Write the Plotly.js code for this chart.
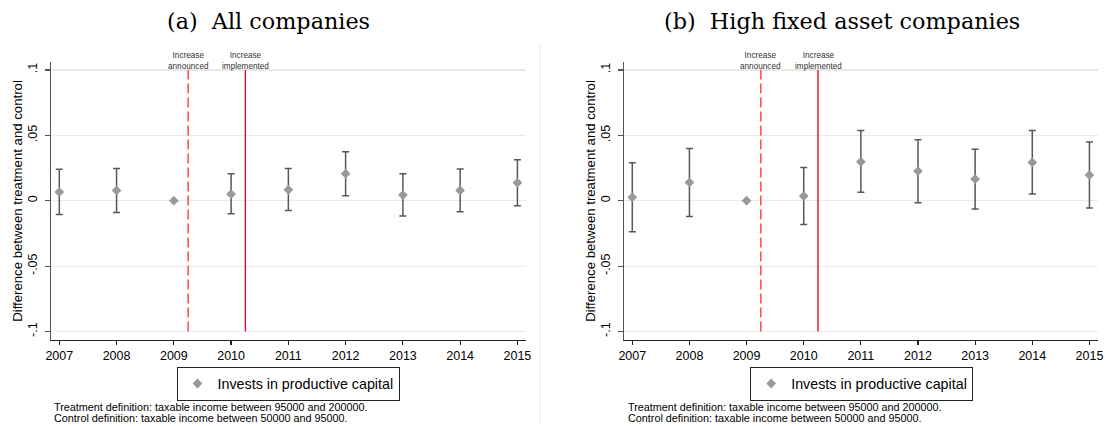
<!DOCTYPE html>
<html><head><meta charset="utf-8">
<script src="https://cdn.plot.ly/plotly-3.0.1.min.js"></script>
<style>html,body{margin:0;padding:0;background:#fff}</style>
</head><body><div id="chart" style="width:1105px;height:426px"></div>
<script>
// ---- data ----
const years = [2007, 2008, 2009, 2010, 2011, 2012, 2013, 2014, 2015];
const coefAll  = [0.0066, 0.0079, 0, 0.0051, 0.0084, 0.0207, 0.0043, 0.0079, 0.0138];
const upperAll = [0.0240, 0.0247, null, 0.0207, 0.0247, 0.0375, 0.0207, 0.0242, 0.0314];
const lowerAll = [-0.0105, -0.0089, null, -0.0099, -0.0074, 0.0038, -0.0117, -0.0084, -0.0038];
const coefHigh  = [0.0026, 0.0140, 0, 0.0036, 0.0298, 0.0227, 0.0166, 0.0293, 0.0196];
const upperHigh = [0.0291, 0.0400, null, 0.0255, 0.0538, 0.0467, 0.0393, 0.0538, 0.0449];
const lowerHigh = [-0.0237, -0.0120, null, -0.0181, 0.0064, -0.0015, -0.0064, 0.0051, -0.0056];
const yTickVals = [-0.1, -0.05, 0, 0.05, 0.1];
const yTickText = ['-.1', '-.05', '0', '.05', '.1'];
const eventX = [2009.25, 2010.25];
const eventLabels = ['Increase<br>announced', 'Increase<br>implemented'];
const panelTitles = ['(a)\u00a0\u00a0All companies', '(b)\u00a0\u00a0High fixed asset companies'];
const seriesName = 'Invests in productive capital';
const yTitle = 'Difference between treatment and control';
const noteLines = ['Treatment definition: taxable income between 95000 and 200000.',
                   'Control definition: taxable income between 50000 and 95000.'];

// ---- geometry helpers (pixel -> paper) ----
const W = 1105, H = 426, ML = 51, MR = 7, MT = 62, MB = 86;
const PW = W - ML - MR, PH = H - MT - MB;
const px = v => (v - ML) / PW;
const py = v => (H - MB - v) / PH;

const up = (u, c) => u.map((v, i) => v === null ? null : v - c[i]);
const dn = (l, c) => l.map((v, i) => v === null ? null : c[i] - v);

function trace(coef, upper, lower, xa, ya, leg) {
  return {
    type: 'scatter', mode: 'markers', x: years, y: coef, xaxis: xa, yaxis: ya,
    name: seriesName, legend: leg, showlegend: true,
    marker: {symbol: 'diamond', size: 7.5, color: '#999999'},
    error_y: {type: 'data', symmetric: false, array: up(upper, coef), arrayminus: dn(lower, coef),
              color: '#575757', thickness: 1.5, width: 3.5}
  };
}
const data = [
  trace(coefAll, upperAll, lowerAll, 'x', 'y', 'legend'),
  trace(coefHigh, upperHigh, lowerHigh, 'x2', 'y2', 'legend2')
];

const fam = '"Liberation Sans", Arial, sans-serif';
const font = {family: fam, size: 12.5, color: '#000'};
const xRange = [2006.855, 2015.15];
const yRange = [-0.1065, 0.1061];
function xax(domain, anchor) {
  return {domain: domain, anchor: anchor, range: xRange, tickvals: years, ticktext: years.map(String),
    ticks: 'outside', ticklen: 4, tickcolor: '#222', tickwidth: 1.2, showline: true, linecolor: '#222',
    linewidth: 1.2, showgrid: false, zeroline: false, tickfont: font, fixedrange: true};
}
function yax(anchor) {
  return {domain: [0, 1], anchor: anchor, range: yRange, tickvals: yTickVals, ticktext: yTickText,
    tickangle: -90, ticks: 'outside', ticklen: 5, tickcolor: '#555', tickwidth: 1.2, ticklabelstandoff: 3,
    showline: true, linecolor: '#555', linewidth: 1.3, showgrid: true, gridcolor: '#e9e9e9', gridwidth: 1.2,
    zeroline: false, tickfont: font, fixedrange: true,
    title: {text: yTitle, font: {family: fam, size: 13.2, color: '#000'}, standoff: 0}};
}

const shapes = [];
const annotations = [];
[['x', 'y', 0], ['x2', 'y2', 1]].forEach(([xa, ya, k]) => {
  shapes.push({type: 'line', xref: xa, yref: ya, x0: eventX[0], x1: eventX[0], y0: -0.1, y1: 0.1,
               line: {color: '#ff3b3b', width: 1.4, dash: '10px,4px'}});
  shapes.push({type: 'line', xref: xa, yref: ya, x0: eventX[1], x1: eventX[1], y0: -0.1, y1: 0.1,
               line: {color: '#e8101a', width: 1.4}});
  eventLabels.forEach((t, i) => annotations.push({xref: xa, yref: 'paper', x: eventX[i], y: py(73),
    yanchor: 'bottom', xanchor: 'center', text: t, showarrow: false,
    font: {family: fam, size: 8.2, color: '#333333'}}));
});
shapes.push({type: 'line', xref: 'paper', yref: 'paper', x0: px(540), x1: px(540), y0: py(424), y1: py(45),
             line: {color: '#ececec', width: 1}});

const titleFont = {family: '"DejaVu Serif", serif', size: 22.3, color: '#000'};
annotations.push({xref: 'paper', yref: 'paper', x: px(268), y: py(21), xanchor: 'center', yanchor: 'middle',
  text: panelTitles[0], showarrow: false, font: titleFont});
annotations.push({xref: 'paper', yref: 'paper', x: px(842), y: py(21), xanchor: 'center', yanchor: 'middle',
  text: panelTitles[1], showarrow: false, font: titleFont});
[53, 627].forEach(x0 => noteLines.forEach((t, i) => annotations.push({xref: 'paper', yref: 'paper',
  x: px(x0 - 1), y: py(406.7 + 11 * i), xanchor: 'left', yanchor: 'middle', align: 'left', text: t,
  showarrow: false, font: {family: fam, size: 10.8, color: '#000'}})));

const legendBase = {xanchor: 'center', yanchor: 'middle', y: py(383.7), bgcolor: '#fff',
  bordercolor: '#222', borderwidth: 1, font: {family: fam, size: 14.3, color: '#000'}, orientation: 'h'};

const layout = {
  width: W, height: H, margin: {l: ML, r: MR, t: MT, b: MB},
  paper_bgcolor: '#fff', plot_bgcolor: '#fff', font: font,
  xaxis: xax([0, px(526)], 'y'), yaxis: yax('x'),
  xaxis2: xax([px(624), 1], 'y2'), yaxis2: yax('x2'),
  legend: Object.assign({x: px(288)}, legendBase),
  legend2: Object.assign({x: px(861.7)}, legendBase),
  shapes: shapes, annotations: annotations, showlegend: true
};
Plotly.newPlot('chart', data, layout, {displayModeBar: false, staticPlot: true});
</script></body></html>
